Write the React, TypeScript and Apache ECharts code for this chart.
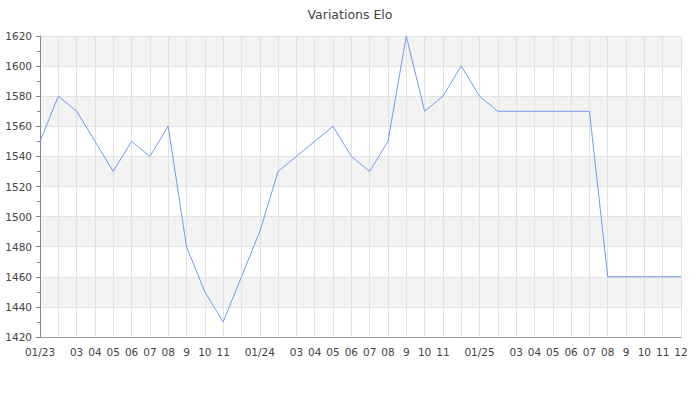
import React, { useEffect, useRef } from "react";
import * as echarts from "echarts";

const months: string[] = [
  "2023-01", "2023-02", "2023-03", "2023-04", "2023-05", "2023-06",
  "2023-07", "2023-08", "2023-09", "2023-10", "2023-11", "2023-12",
  "2024-01", "2024-02", "2024-03", "2024-04", "2024-05", "2024-06",
  "2024-07", "2024-08", "2024-09", "2024-10", "2024-11", "2024-12",
  "2025-01", "2025-02", "2025-03", "2025-04", "2025-05", "2025-06",
  "2025-07", "2025-08", "2025-09", "2025-10", "2025-11", "2025-12",
];

const tickLabels: string[] = [
  "01/23", "", "03", "04", "05", "06", "07", "08", "9", "10", "11", "",
  "01/24", "", "03", "04", "05", "06", "07", "08", "9", "10", "11", "",
  "01/25", "", "03", "04", "05", "06", "07", "08", "9", "10", "11", "12",
];

const elo: number[] = [
  1550, 1580, 1570, 1550, 1530, 1550, 1540, 1560, 1480, 1450, 1430, 1460,
  1490, 1530, 1540, 1550, 1560, 1540, 1530, 1550, 1620, 1570, 1580, 1600,
  1580, 1570, 1570, 1570, 1570, 1570, 1570, 1460, 1460, 1460, 1460, 1460,
];

const yTicks = { min: 1420, max: 1620, interval: 20 };

export default function App() {
  const ref = useRef<HTMLDivElement>(null);
  useEffect(() => {
    if (!ref.current) return;
    const chart = echarts.init(ref.current, null, { renderer: "svg" });
    const font = "DejaVu Sans";
    chart.setOption({
      animation: false,
      title: {
        text: "Variations Elo",
        left: "center",
        top: 3,
        textStyle: { fontFamily: font, fontSize: 12.5, fontWeight: "normal", color: "#444" },
      },
      grid: { left: 40, right: 19, top: 36, bottom: 63 },
      xAxis: {
        type: "category",
        data: months,
        boundaryGap: false,
        axisLine: { show: true, lineStyle: { color: "#999" } },
        axisTick: { show: false },
        axisLabel: {
          interval: 0,
          margin: 9,
          fontFamily: font,
          fontSize: 10.5,
          color: "#444",
          formatter: (_v: string, i: number) => tickLabels[i],
        },
        splitLine: { show: true, interval: 0, lineStyle: { color: "#e2e2e2", width: 1 } },
      },
      yAxis: {
        type: "value",
        min: yTicks.min,
        max: yTicks.max,
        interval: yTicks.interval,
        axisLine: { show: true, lineStyle: { color: "#888" } },
        axisTick: { show: true, length: 4, lineStyle: { color: "#888" } },
        minorTick: { show: true, splitNumber: 2, length: 3, lineStyle: { color: "#888" } },
        axisLabel: {
          margin: 8,
          fontFamily: font,
          fontSize: 10.5,
          color: "#444",
          formatter: (v: number) => String(v),
        },
        splitLine: { show: true, lineStyle: { color: "#e2e2e2", width: 1 } },
        splitArea: { show: true, areaStyle: { color: ["#ffffff", "#f3f3f3"] } },
      },
      series: [
        {
          type: "line",
          data: elo,
          showSymbol: false,
          symbol: "none",
          lineStyle: { color: "#6d9bf0", width: 1 },
          itemStyle: { color: "#6d9bf0" },
        },
      ],
    });
    return () => chart.dispose();
  }, []);
  return <div ref={ref} style={{ width: 700, height: 400, position: "absolute", left: 0, top: 0 }} />;
}
